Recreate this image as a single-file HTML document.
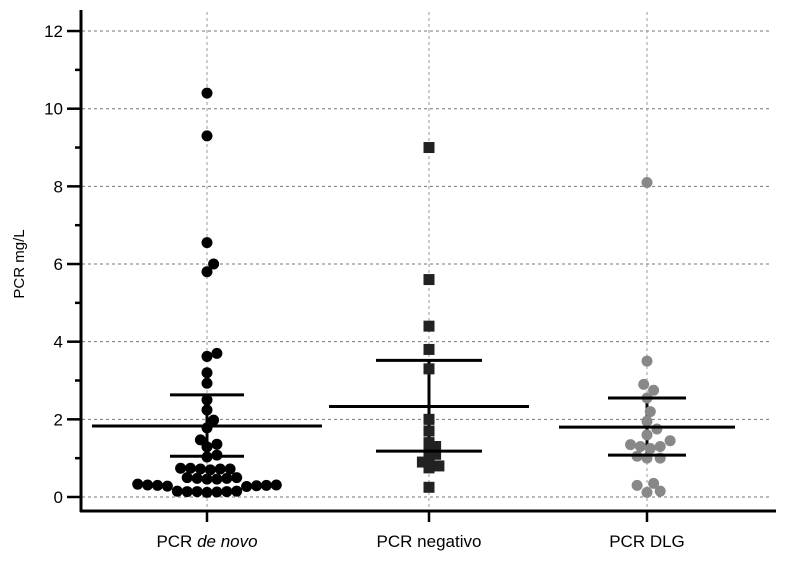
<!DOCTYPE html>
<html><head><meta charset="utf-8"><style>
body{margin:0;background:#fff;width:800px;height:563px;overflow:hidden}
svg text{font-family:"Liberation Sans",sans-serif}
</style></head><body>
<svg id="chart" width="800" height="563" xmlns="http://www.w3.org/2000/svg"></svg>
<script>
const categories = ["PCR de novo","PCR negativo","PCR DLG"];
const valuesDeNovo = [10.4,9.3,6.55,6.0,5.8,3.7,3.62,3.2,2.93,2.5,2.24,1.98,1.78,1.47,1.36,1.29,1.08,1.03,
  0.74,0.72,0.72,0.7,0.72,0.74,0.5,0.5,0.48,0.48,0.46,0.46,0.33,0.31,0.31,0.3,0.29,0.3,0.28,0.27,0.14,0.14,0.13,0.15,0.12,0.14,0.15];
const valuesNegativo = [9.0,5.6,4.4,3.8,3.3,2.0,1.7,1.4,1.3,1.2,1.1,1.0,0.9,0.8,0.75,0.25];
const valuesDLG = [8.1,3.5,2.9,2.75,2.55,2.2,1.95,1.75,1.6,1.45,1.35,1.3,1.3,1.25,1.05,1.0,1.0,0.35,0.3,0.15,0.12];
const means = [1.83,2.33,1.8];
const sdHigh = [2.63,3.52,2.55];
const sdLow = [1.05,1.18,1.08];
const yTicks = [0,2,4,6,8,10,12];

const NS="http://www.w3.org/2000/svg", svg=document.getElementById('chart');
const y=v=>497-v*38.83;
const catX=[207,429,647];
function el(t,a){const e=document.createElementNS(NS,t);for(const k in a)e.setAttribute(k,a[k]);svg.appendChild(e);return e;}
yTicks.forEach(t=>{const g=el('line',{x1:82,x2:770,y1:y(t),y2:y(t),stroke:'#777','stroke-dasharray':'3,3','stroke-width':1});

});
catX.forEach((cx,i)=>{const g=el('line',{x1:cx,x2:cx,y1:12,y2:510,stroke:'#999','stroke-dasharray':'3,3','stroke-width':1});

});
const ya=el('line',{x1:81,x2:81,y1:10,y2:512,stroke:'#000','stroke-width':3});


const xa=el('line',{x1:80,x2:776,y1:511,y2:511,stroke:'#000','stroke-width':3});


for(let v=0;v<=12;v++){const major=v%2==0;
 const tk=el('line',{x1:major?67:75,x2:81,y1:y(v),y2:y(v),stroke:'#000','stroke-width':2.5});
 
 
 if(major){const tx=el('text',{x:63,y:y(v)+6,'text-anchor':'end','font-size':17});tx.textContent=v;
 
 }}
const yt=el('text',{x:24,y:264,'text-anchor':'middle','font-size':15,transform:'rotate(-90 24 264)'});yt.textContent='PCR mg/L';


catX.forEach((cx,i)=>{const tk=el('line',{x1:cx,x2:cx,y1:511,y2:522,stroke:'#000','stroke-width':2.5});
 
 
 const tx=el('text',{x:cx,y:547,'text-anchor':'middle','font-size':17});
 
 
 if(i==0){tx.innerHTML='PCR <tspan font-style="italic">de novo</tspan>';}else tx.textContent=categories[i];});
function swarm(vals,r,gap){const placed=[];const out=[];
 vals.slice().sort((a,b)=>a-b).forEach(v=>{const py=y(v);let best=0;
  for(let k=0;k<60;k++){const off=(k%2?1:-1)*Math.ceil(k/2)*r*0.6;
   if(placed.every(p=>Math.hypot(p[0]-off,p[1]-py)>=gap)){best=off;break;}}
  placed.push([best,py]);out.push([best,py]);});return out;}
const groups=[valuesDeNovo,valuesNegativo,valuesDLG];
const styles=[{c:'#000',s:'circle',r:5.5,g:9.5},{c:'#222',s:'square',r:5.5,g:7},{c:'#888',s:'circle',r:5.5,g:10}];
const halfMean=[115,100,88], halfSd=[37,53,39];
groups.forEach((vals,i)=>{const st=styles[i];
 const vl=el('line',{x1:catX[i],x2:catX[i],y1:y(sdLow[i]),y2:y(sdHigh[i]),stroke:'#000','stroke-width':3});
 
 
 swarm(vals,st.r,st.g).forEach(([o,py])=>{let m;
  if(st.s=='square')m=el('rect',{x:catX[i]+o-st.r,y:py-st.r,width:2*st.r,height:2*st.r,fill:st.c});
  else m=el('circle',{cx:catX[i]+o,cy:py,r:st.r,fill:st.c});
  
  });
 [[means[i],halfMean[i],'mean-line-'],[sdHigh[i],halfSd[i],'sd-high-'],[sdLow[i],halfSd[i],'sd-low-']].forEach(([v,h,n])=>{
  const l=el('line',{x1:catX[i]-h,x2:catX[i]+h,y1:y(v),y2:y(v),stroke:'#000','stroke-width':3});
  
  });
});
</script>
</body></html>
